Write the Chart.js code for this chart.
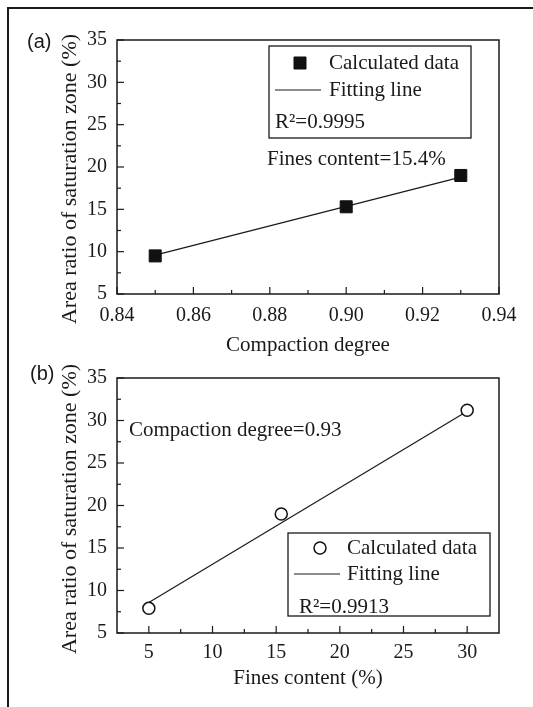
<!DOCTYPE html>
<html>
<head>
<meta charset="utf-8">
<script src="https://cdn.jsdelivr.net/npm/chart.js@4"></script>
<style>
  body { margin: 0; background: #fff; }
  #wrap { position: relative; width: 533px; height: 707px; overflow: hidden; }
  #frame { position: absolute; left: 7px; top: 7px; width: 540px; height: 720px;
           border-left: 2px solid #1a1a1a; border-top: 2px solid #1a1a1a; }
  canvas { position: absolute; left: 0; }
  #chartA { top: 0; }
  #chartB { top: 340px; }
</style>
</head>
<body>
<div id="wrap">
  <div id="frame"></div>
  <canvas id="chartA" width="533" height="370"></canvas>
  <canvas id="chartB" width="533" height="367"></canvas>
</div>
<script>
// (a) area ratio vs compaction degree, fines content = 15.4%
const compaction = [0.85, 0.90, 0.93]
const areaA = [9.5, 15.3, 19.0]
const fitCompaction = [0.85, 0.93]
const fitAreaA = [9.6, 18.8]

// (b) area ratio vs fines content, compaction degree = 0.93
const fines = [5, 15.4, 30]
const areaB = [7.9, 19.0, 31.2]
const fitFines = [5, 30]
const fitAreaB = [8.6, 31.1]

// axis ticks
const yTicks = [5, 10, 15, 20, 25, 30, 35]
const yMinor = [7.5, 12.5, 17.5, 22.5, 27.5, 32.5]
const xTicksA = [0.84, 0.86, 0.88, 0.90, 0.92, 0.94]
const xMinorA = [0.85, 0.87, 0.89, 0.91, 0.93]
const xTicksB = [5, 10, 15, 20, 25, 30]
const xMinorB = [7.5, 12.5, 17.5, 22.5, 27.5]

const yTitle = 'Area ratio of saturation zone (%)'
const serif = '"Liberation Serif", "Times New Roman", serif'
const ink = '#1a1a1a'
Chart.defaults.font.family = serif
Chart.defaults.color = ink

const pts = (xs, ys) => xs.map((x, i) => ({ x: x, y: ys[i] }))

// frame, inward ticks, y title, legend box and notes
const panelDecor = {
    id: 'panelDecor',
    afterDraw(chart, args, o) {
        const { ctx, chartArea: a } = chart
        const x = chart.scales.x, y = chart.scales.y
        ctx.save()
        ctx.strokeStyle = ink
        ctx.fillStyle = ink
        ctx.lineWidth = 1.5
        ctx.strokeRect(a.left, a.top, a.right - a.left, a.bottom - a.top)
        ctx.lineWidth = 1.2
        const tx = (vals, len) => vals.forEach(v => {
            const p = x.getPixelForValue(v)
            ctx.beginPath(); ctx.moveTo(p, a.bottom); ctx.lineTo(p, a.bottom - len); ctx.stroke()
        })
        const ty = (vals, len) => vals.forEach(v => {
            const p = y.getPixelForValue(v)
            ctx.beginPath(); ctx.moveTo(a.left, p); ctx.lineTo(a.left + len, p); ctx.stroke()
        })
        tx(o.xMajor, 7); tx(o.xMinor, 4)
        ty(yTicks, 7); ty(yMinor, 4)

        // legend
        const L = o.legend
        ctx.lineWidth = 1.3
        ctx.strokeRect(L.box[0], L.box[1], L.box[2] - L.box[0], L.box[3] - L.box[1])
        const ds = chart.data.datasets
        const m = ds[0]
        ctx.lineWidth = m.borderWidth
        ctx.strokeStyle = m.borderColor
        ctx.fillStyle = m.backgroundColor
        Chart.helpers.drawPoint(ctx, { pointStyle: m.pointStyle, radius: m.pointRadius, borderWidth: m.borderWidth }, L.mark[0], L.mark[1])
        ctx.strokeStyle = ds[1].borderColor
        ctx.lineWidth = ds[1].borderWidth
        ctx.beginPath(); ctx.moveTo(L.line[0], L.line[2]); ctx.lineTo(L.line[1], L.line[2]); ctx.stroke()

        ctx.fillStyle = ink
        ctx.font = '21px ' + serif
        ctx.textBaseline = 'middle'
        ctx.textAlign = 'left'
        ctx.fillText(m.label, L.textX, L.mark[1])
        ctx.fillText(ds[1].label, L.textX, L.line[2])
        ctx.fillText(L.r2, L.r2Pos[0], L.r2Pos[1])
        ctx.fillText(o.note, o.notePos[0], o.notePos[1])

        // rotated y axis title
        ctx.save()
        ctx.font = '22px ' + serif
        ctx.textAlign = 'center'
        ctx.translate(o.yTitlePos[0], o.yTitlePos[1])
        ctx.rotate(-Math.PI / 2)
        ctx.fillText(yTitle, 0, 0)
        ctx.restore()

        ctx.font = '20px "Liberation Sans", Arial, sans-serif'
        ctx.fillText(o.tag, o.tagPos[0], o.tagPos[1])
        ctx.restore()
    }
}

function makeAxes(cfg) {
    const tickFont = { size: 20, family: serif }
    const titleFont = { size: 21, family: serif }
    return {
        x: {
            type: 'linear', min: cfg.xMin, max: cfg.xMax,
            grid: { display: false, drawTicks: false }, border: { display: false },
            afterBuildTicks: s => { s.ticks = cfg.xTicks.map(v => ({ value: v })) },
            afterFit: s => { s.height = cfg.xAxisH },
            ticks: { font: tickFont, color: ink, padding: cfg.xPad, maxRotation: 0, callback: cfg.xFmt },
            title: { display: true, text: cfg.xTitle, font: titleFont, color: ink, padding: { top: 0, bottom: cfg.xTitlePad } }
        },
        y: {
            type: 'linear', min: 5, max: 35,
            grid: { display: false, drawTicks: false }, border: { display: false },
            afterBuildTicks: s => { s.ticks = yTicks.map(v => ({ value: v })) },
            afterFit: s => { s.width = 117 },
            ticks: { font: tickFont, color: ink, padding: 10 }
        }
    }
}

new Chart(document.getElementById('chartA'), {
    type: 'scatter',
    data: {
        datasets: [{
            label: 'Calculated data',
            data: pts(compaction, areaA),
            pointStyle: 'rect',
            pointRadius: 8.5,
            backgroundColor: '#111',
            borderColor: '#111',
            borderWidth: 1
        }, {
            label: 'Fitting line',
            data: pts(fitCompaction, fitAreaA),
            showLine: true,
            pointRadius: 0,
            borderColor: ink,
            borderWidth: 1.2
        }]
    },
    options: {
        responsive: false,
        animation: false,
        layout: { padding: { left: 0, top: 40, right: 34, bottom: 0 } },
        scales: makeAxes({
            xMin: 0.84, xMax: 0.94, xTicks: xTicksA, xAxisH: 76, xPad: 10, xTitlePad: 12,
            xFmt: v => v.toFixed(2), xTitle: 'Compaction degree'
        }),
        plugins: {
            legend: { display: false },
            tooltip: { enabled: false },
            panelDecor: {
                xMajor: xTicksA, xMinor: xMinorA,
                legend: { box: [269, 46, 471, 138], mark: [300, 63], line: [275, 321, 90], textX: 329, r2: 'R²=0.9995', r2Pos: [275, 122] },
                note: 'Fines content=15.4%', notePos: [267, 159],
                tag: '(a)', tagPos: [27, 42],
                yTitlePos: [70, 179]
            }
        }
    },
    plugins: [panelDecor]
})

new Chart(document.getElementById('chartB'), {
    type: 'scatter',
    data: {
        datasets: [{
            label: 'Calculated data',
            data: pts(fines, areaB),
            pointStyle: 'circle',
            pointRadius: 6,
            backgroundColor: '#fff',
            borderColor: '#111',
            borderWidth: 1.5
        }, {
            label: 'Fitting line',
            data: pts(fitFines, fitAreaB),
            showLine: true,
            pointRadius: 0,
            borderColor: ink,
            borderWidth: 1.2
        }]
    },
    options: {
        responsive: false,
        animation: false,
        layout: { padding: { left: 0, top: 38, right: 34, bottom: 0 } },
        scales: makeAxes({
            xMin: 2.5, xMax: 32.5, xTicks: xTicksB, xAxisH: 74, xPad: 8, xTitlePad: 16,
            xFmt: v => String(v), xTitle: 'Fines content (%)'
        }),
        plugins: {
            legend: { display: false },
            tooltip: { enabled: false },
            panelDecor: {
                xMajor: xTicksB, xMinor: xMinorB,
                legend: { box: [288, 193, 490, 276], mark: [320, 208], line: [294, 340, 234], textX: 347, r2: 'R²=0.9913', r2Pos: [299, 267] },
                note: 'Compaction degree=0.93', notePos: [129, 90],
                tag: '(b)', tagPos: [30, 34],
                yTitlePos: [70, 169]
            }
        }
    },
    plugins: [panelDecor]
})
</script>
</body>
</html>
